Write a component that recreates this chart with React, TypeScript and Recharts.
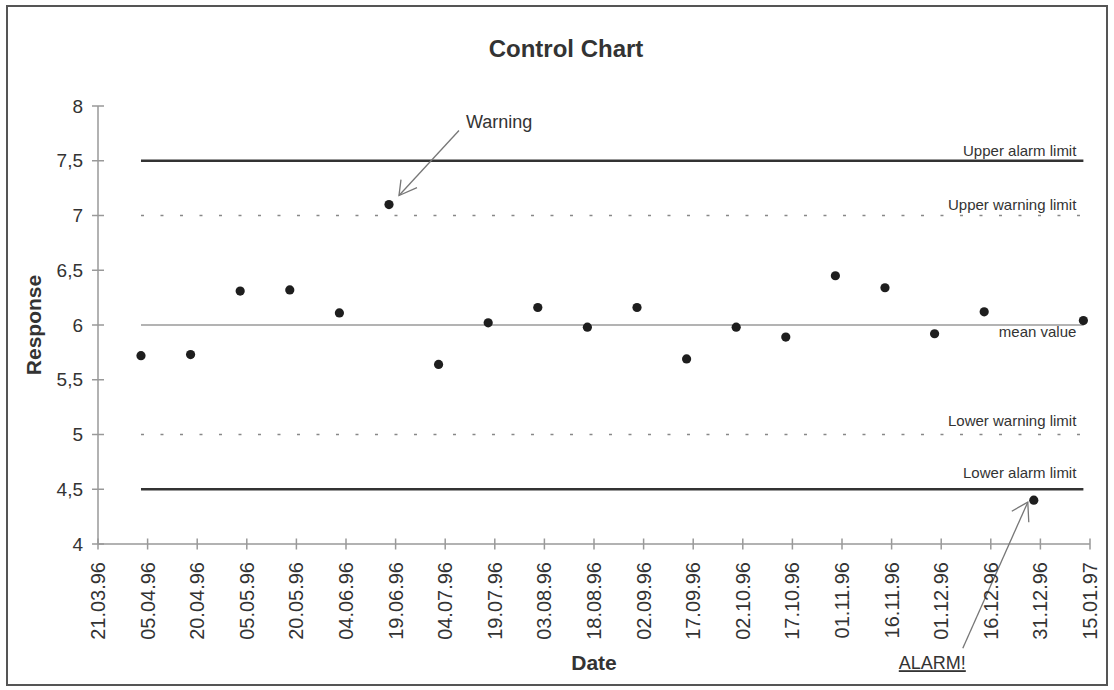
import React from "react";
import {
  ComposedChart,
  Line,
  Scatter,
  XAxis,
  YAxis,
  Label,
} from "recharts";

const tickDates = [
  "21.03.96", "05.04.96", "20.04.96", "05.05.96", "20.05.96", "04.06.96",
  "19.06.96", "04.07.96", "19.07.96", "03.08.96", "18.08.96", "02.09.96",
  "17.09.96", "02.10.96", "17.10.96", "01.11.96", "16.11.96", "01.12.96",
  "16.12.96", "31.12.96", "15.01.97",
];

const sampleDates = [
  "03.04.96", "18.04.96", "03.05.96", "18.05.96", "02.06.96", "17.06.96",
  "02.07.96", "17.07.96", "01.08.96", "16.08.96", "31.08.96", "15.09.96",
  "30.09.96", "15.10.96", "30.10.96", "14.11.96", "29.11.96", "14.12.96",
  "29.12.96", "13.01.97",
];

const responses = [
  5.72, 5.73, 6.31, 6.32, 6.11, 7.1, 5.64, 6.02, 6.16, 5.98,
  6.16, 5.69, 5.98, 5.89, 6.45, 6.34, 5.92, 6.12, 4.4, 6.04,
];

const notes = [
  "", "", "", "", "", "Warning", "", "", "", "",
  "", "", "", "", "", "", "", "", "ALARM!", "",
];

const limitValues = [7.5, 7, 6, 5, 4.5];
const limitNames = [
  "Upper alarm limit",
  "Upper warning limit",
  "mean value",
  "Lower warning limit",
  "Lower alarm limit",
];

const yTicks = [4, 4.5, 5, 5.5, 6, 6.5, 7, 7.5, 8];

const FONT = '"Liberation Sans", Arial, sans-serif';
const TEXT = "#333";
const AXIS = "#999";

// how each limit line is drawn
const limitStyles = [
  { stroke: "#333", width: 2.5, dash: undefined, dy: -5 },
  { stroke: "#888", width: 1.5, dash: "3 16.5", dy: -6 },
  { stroke: "#9a9a9a", width: 1.5, dash: undefined, dy: 12 },
  { stroke: "#888", width: 1.5, dash: "3 16.5", dy: -9 },
  { stroke: "#333", width: 2.5, dash: undefined, dy: -11 },
];

const toDay = (s: string) => {
  const [d, m, y] = s.split(".").map(Number);
  return Date.UTC(1900 + y, m - 1, d) / 86400000;
};

const tickDays = tickDates.map(toDay);

const data = sampleDates.map((d, i) => {
  const row: Record<string, number | string> = {
    day: toDay(d),
    response: responses[i],
    note: notes[i],
  };
  limitValues.forEach((v, k) => {
    row["limit" + k] = v;
  });
  return row;
});

const XTick = (props: any) => {
  const { x, y, payload } = props;
  const idx = tickDays.indexOf(payload.value);
  const label = idx >= 0 ? tickDates[idx] : "";
  const ty = y + 18;
  return (
    <g>
      <line x1={x} x2={x} y1={y - 5.5} y2={y + 5.5} stroke={AXIS} strokeWidth={1.5} />
      <text
        x={x}
        y={ty}
        transform={`rotate(-90 ${x} ${ty})`}
        textAnchor="end"
        dy="0.35em"
        fontSize={20}
        fontFamily={FONT}
        fill={TEXT}
      >
        {label}
      </text>
    </g>
  );
};

const YTick = (props: any) => {
  const { x, y, payload } = props;
  return (
    <g>
      <line x1={x - 6} x2={x + 6} y1={y} y2={y} stroke={AXIS} strokeWidth={1.5} />
      <text
        x={x - 15}
        y={y}
        textAnchor="end"
        dy="0.35em"
        fontSize={19}
        fontFamily={FONT}
        fill={TEXT}
      >
        {String(payload.value).replace(".", ",")}
      </text>
    </g>
  );
};

const arrowStyle = { stroke: "#777", strokeWidth: 1.3, fill: "none" };

const PointShape = (props: any) => {
  const { cx, cy, payload } = props;
  if (cx == null || cy == null) return <g />;
  const dot = <circle cx={cx} cy={cy} r={4.6} fill="#1e1e1e" />;
  if (payload.note === "Warning") {
    const tx = cx + 10;
    const ty = cy - 9;
    return (
      <g>
        {dot}
        <line x1={cx + 70} y1={cy - 74} x2={tx} y2={ty} {...arrowStyle} />
        <polyline
          points={`${tx + 2},${ty - 16} ${tx},${ty} ${tx + 18},${ty - 8}`}
          {...arrowStyle}
        />
        <text x={cx + 77} y={cy - 77} fontSize={18} fontFamily={FONT} fill={TEXT}>
          {payload.note}
        </text>
      </g>
    );
  }
  if (payload.note === "ALARM!") {
    const tx = cx - 6;
    const ty = cy + 2;
    return (
      <g>
        {dot}
        <line x1={cx - 71} y1={cy + 148} x2={tx} y2={ty} {...arrowStyle} />
        <polyline
          points={`${tx - 16},${ty + 9} ${tx},${ty} ${tx + 1},${ty + 20}`}
          {...arrowStyle}
        />
        <text
          x={cx - 135}
          y={cy + 169}
          fontSize={18}
          fontFamily={FONT}
          fill={TEXT}
          textDecoration="underline"
        >
          {payload.note}
        </text>
      </g>
    );
  }
  return dot;
};

const limitLabel = (k: number) => (props: any) => {
  const { x, y, index } = props;
  if (index !== data.length - 1) return <g />;
  return (
    <text
      x={x - 7}
      y={y + limitStyles[k].dy}
      textAnchor="end"
      fontSize={15}
      fontFamily={FONT}
      fill={TEXT}
    >
      {limitNames[k]}
    </text>
  );
};

export default function App() {
  return (
    <div
      style={{
        position: "absolute",
        left: 0,
        top: 0,
        width: 1114,
        height: 690,
        background: "#fff",
        fontFamily: FONT,
      }}
    >
      <ComposedChart
        width={1114}
        height={690}
        data={data}
        margin={{ top: 106, right: 24, bottom: 46, left: 38 }}
      >
        <XAxis
          dataKey="day"
          type="number"
          domain={[tickDays[0], tickDays[tickDays.length - 1]]}
          ticks={tickDays}
          interval={0}
          height={100}
          tickSize={0}
          tickMargin={0}
          tickLine={false}
          tick={<XTick />}
          axisLine={{ stroke: AXIS, strokeWidth: 1.5 }}
        >
          <Label
            content={(p: any) => {
              const vb = p.viewBox;
              return (
                <text
                  x={vb.x + vb.width / 2}
                  y={vb.y + 126}
                  textAnchor="middle"
                  fontSize={21}
                  fontWeight="bold"
                  fontFamily={FONT}
                  fill={TEXT}
                >
                  Date
                </text>
              );
            }}
          />
        </XAxis>
        <YAxis
          type="number"
          domain={[4, 8]}
          ticks={yTicks}
          interval={0}
          width={60}
          tickSize={0}
          tickMargin={0}
          tickLine={false}
          tick={<YTick />}
          axisLine={{ stroke: AXIS, strokeWidth: 1.5 }}
        >
          <Label
            content={(p: any) => {
              const vb = p.viewBox;
              const lx = vb.x + 3;
              const ly = vb.y + vb.height / 2;
              return (
                <text
                  x={lx}
                  y={ly}
                  transform={`rotate(-90 ${lx} ${ly})`}
                  textAnchor="middle"
                  fontSize={21}
                  fontWeight="bold"
                  fontFamily={FONT}
                  fill={TEXT}
                >
                  Response
                </text>
              );
            }}
          />
        </YAxis>
        {limitValues.map((_, k) => (
          <Line
            key={k}
            dataKey={"limit" + k}
            stroke={limitStyles[k].stroke}
            strokeWidth={limitStyles[k].width}
            strokeDasharray={limitStyles[k].dash}
            dot={false}
            activeDot={false}
            isAnimationActive={false}
            label={limitLabel(k)}
          />
        ))}
        <Scatter
          dataKey="response"
          shape={(p: any) => <PointShape {...p} />}
          isAnimationActive={false}
        />
      </ComposedChart>
      <div
        style={{
          position: "absolute",
          left: 366,
          top: 37,
          width: 400,
          textAlign: "center",
          fontSize: 24,
          lineHeight: "24px",
          fontWeight: "bold",
          color: TEXT,
        }}
      >
        Control Chart
      </div>
      <div
        style={{
          position: "absolute",
          left: 6,
          top: 5,
          width: 1102,
          height: 681,
          border: "2px solid #555",
          boxSizing: "border-box",
          pointerEvents: "none",
        }}
      />
    </div>
  );
}
